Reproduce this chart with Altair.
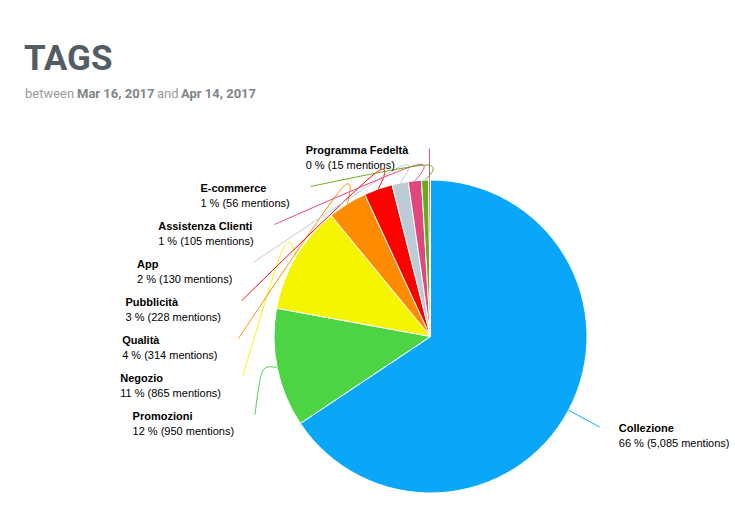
import math
import altair as alt
import pandas as pd

# ---------------- data ----------------
categories = ["Collezione", "Promozioni", "Negozio", "Qualità", "Pubblicità",
              "App", "Assistenza Clienti", "E-commerce", "Programma Fedeltà"]
mentions = [5085, 950, 865, 314, 228, 130, 105, 56, 15]
colors = ["#0aa6f7", "#4cd444", "#f5f500", "#ff8c00", "#ff0000",
          "#bccbd5", "#e0477d", "#6aab1c", "#c0505a"]
title_text = "TAGS"
subtitle_parts = ["between", "Mar 16, 2017", "and", "Apr 14, 2017"]

# ---------------- layout constants ----------------
W, H = 735, 520
CX, CY, R = 430.5, 336.5, 156.5
R_ELBOW = R + 15
R_LABEL = 192
SPACING = 38
TOP_Y = CY - 188
GAP = 21
FS = 11

# Helvetica / Arial advance widths (per 1000 em) for label width estimates
REG = {" ": 278, "%": 889, "(": 333, ")": 333, ",": 278, "m": 833, "e": 556,
       "n": 556, "t": 278, "i": 222, "o": 556, "s": 500}
BOLD = {" ": 278, "A": 722, "C": 722, "E": 667, "F": 611, "N": 722, "P": 667,
        "Q": 778, "a": 556, "b": 611, "c": 556, "d": 611, "e": 556, "g": 611,
        "i": 278, "l": 278, "m": 889, "n": 611, "o": 611, "p": 611, "r": 389,
        "s": 556, "t": 333, "u": 611, "z": 500, "à": 556, "-": 333}


def text_w(s, table):
    return sum(table.get(ch, 556) for ch in s) * FS / 1000.0


total = sum(mentions)
rows = []
cum = 0
for i, (c, v, col) in enumerate(zip(categories, mentions, colors)):
    mid = 2 * math.pi * (cum + v / 2) / total
    cum += v
    pct = round(100 * v / total)
    rows.append(dict(category=c, value=v, idx=i, color=col, mid=mid,
                     value_label=f"{pct} % ({v:,} mentions)"))

# label placement (stacked on a circle around the pie)
for r in rows:
    r["nx"] = CX + R_LABEL * math.sin(r["mid"])
    r["ny"] = CY - R_LABEL * math.cos(r["mid"])
    r["left"] = math.sin(r["mid"]) < 0

for side in (True, False):
    group = sorted([r for r in rows if r["left"] == side], key=lambda r: r["ny"])
    prev = -1e9
    for r in group:
        y = max(r["ny"], prev + SPACING, TOP_Y)
        prev = y
        if y - r["ny"] > 10:
            dy = y - CY
            off = math.sqrt(max(R_LABEL ** 2 - dy ** 2, 0))
            x = CX - off if side else CX + off
        else:
            x = r["nx"]
        r["ex"], r["ey"] = x, y
        w = max(text_w(r["category"], BOLD), text_w(r["value_label"], REG))
        r["tx"] = x - GAP - w if side else x + GAP - 2
        r["ty1"] = y + 5
        r["ty2"] = y + 20

df = pd.DataFrame(rows)

line_rows = []
for r in rows:
    pts = [(CX + R * math.sin(r["mid"]), CY - R * math.cos(r["mid"])),
           (CX + R_ELBOW * math.sin(r["mid"]), CY - R_ELBOW * math.cos(r["mid"])),
           (r["ex"], r["ey"])]
    for k, (px, py) in enumerate(pts):
        line_rows.append(dict(category=r["category"], color=r["color"], k=k, x=px, y=py))
lines_df = pd.DataFrame(line_rows)

xs = alt.Scale(domain=[0, W], range=[0, W], nice=False, zero=False)
ys = alt.Scale(domain=[0, H], range=[0, H], nice=False, zero=False)

pie = alt.Chart(df).mark_arc(radius=R, stroke="white", strokeWidth=1).encode(
    theta=alt.Theta("value:Q", stack=True),
    order=alt.Order("idx:Q", sort="ascending"),
    color=alt.Color("color:N", scale=None),
    x=alt.value(CX),
    y=alt.value(CY),
)

connectors = alt.Chart(lines_df).mark_line(interpolate="cardinal", strokeWidth=1).encode(
    x=alt.X("x:Q", scale=xs, axis=None),
    y=alt.Y("y:Q", scale=ys, axis=None),
    detail="category:N",
    order="k:Q",
    color=alt.Color("color:N", scale=None),
)

names = alt.Chart(df).mark_text(align="left", baseline="alphabetic", font="Liberation Sans",
                                fontSize=FS, fontWeight="bold", color="#000000").encode(
    x=alt.X("tx:Q", scale=xs, axis=None),
    y=alt.Y("ty1:Q", scale=ys, axis=None),
    text="category:N",
)

vals = alt.Chart(df).mark_text(align="left", baseline="alphabetic", font="Liberation Sans",
                               fontSize=FS, color="#000000").encode(
    x=alt.X("tx:Q", scale=xs, axis=None),
    y=alt.Y("ty2:Q", scale=ys, axis=None),
    text="value_label:N",
)

tdf = pd.DataFrame({"t": [title_text]})
title = alt.Chart(tdf).mark_text(align="left", baseline="alphabetic", font="Roboto",
                                 fontSize=35, fontWeight="bold", color="#535d63").encode(
    x=alt.value(24), y=alt.value(70), text="t:N")

sub_x = [25, 77, 157, 181]
sub_bold = [False, True, False, True]
sub_layers = []
for txt, sx, b in zip(subtitle_parts, sub_x, sub_bold):
    sdf = pd.DataFrame({"t": [txt]})
    sub_layers.append(
        alt.Chart(sdf).mark_text(align="left", baseline="alphabetic",
                                 font="Roboto",
                                 fontSize=13, fontWeight="bold" if b else "normal",
                                 color="#7f8687" if b else "#9a9a9a").encode(
            x=alt.value(sx), y=alt.value(98), text="t:N"))

chart = alt.layer(pie, connectors, names, vals, title, *sub_layers).properties(
    width=W, height=H, padding=0,
    autosize=alt.AutoSizeParams(type="none"),
).configure_view(strokeWidth=0)

chart.save("out.html", embed_options={"renderer": "svg", "actions": False})
